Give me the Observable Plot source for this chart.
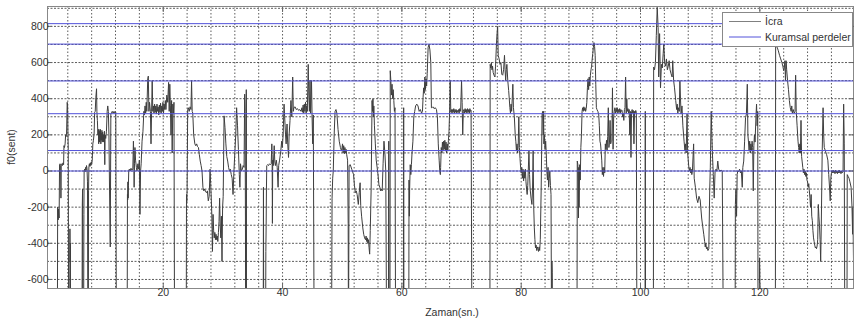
<!DOCTYPE html>
<html><head><meta charset="utf-8">
<script src="https://cdn.jsdelivr.net/npm/d3@7"></script>
<script src="https://cdn.jsdelivr.net/npm/@observablehq/plot@0.6"></script>
<style>
body{margin:0;background:#fff;}
#wrap{position:relative;width:854px;height:320px;font-family:"Liberation Sans",Arial,sans-serif;}
.lbl{position:absolute;font-size:10.5px;color:#333;white-space:nowrap;}
#legend{position:absolute;left:722px;top:12px;width:129px;height:33px;border:1px solid #888;background:#fff;}
</style></head><body><div id="wrap"></div>
<script>
// Theoretical pitches (cents) — "Kuramsal perdeler"
const perdeler = [0, 113.2, 317.0, 498.1, 702.0, 815.1];
const xTicks = [20, 40, 60, 80, 100, 120];
const yTicks = [-600, -400, -200, 0, 200, 400, 600, 800];
const legendLabels = ["İcra", "Kuramsal perdeler"];
const D = -1000; // unvoiced frames (off the bottom of the axes)

// Performance f0 trace "İcra": [time (s), cents]
const icraNoktalari = [
[2.25,D],[2.3,-200],[2.4,-270],[2.45,-210],[2.55,-260],[2.62,35],[2.7,40],[2.8,30],[2.85,-150],[2.9,35],[3.0,40],[3.1,30],[3.2,45],[3.3,35],[3.36,140],[3.45,130],[3.55,150],[3.64,200],[3.72,190],[3.8,210],[3.9,380],[3.97,360],[4.03,200],[4.08,120],[4.15,D],[4.32,D],[4.36,-320],[4.4,-500],[4.44,-400],[4.48,D],
[6.38,D],[6.43,-200],[6.48,-100],[6.52,D],[6.65,D],[6.7,-240],[6.74,0],[6.82,10],[6.9,-5],[6.98,20],[7.06,5],[7.14,30],[7.22,15],[7.3,-60],[7.38,D],[7.44,D],[7.48,-110],[7.54,25],[7.62,40],[7.7,25],[7.78,45],[7.86,30],[7.94,50],[8.02,40],[8.1,60],[8.2,150],[8.3,170],[8.42,210],[8.5,325],[8.6,330],[8.7,405],[8.82,455],[8.88,330],[8.96,280],[9.05,200],[9.12,230],[9.18,150],[9.24,230],[9.3,160],[9.36,220],[9.42,170],[9.48,230],[9.54,150],[9.6,210],[9.66,170],[9.72,225],[9.78,160],[9.84,215],[9.9,170],[9.96,200],[10.02,160],[10.08,190],[10.14,220],[10.2,35],[10.26,200],[10.36,180],[10.48,220],[10.6,330],[10.7,360],[10.8,330],[10.9,200],[11.0,-100],[11.12,-420],[11.22,315],[11.32,320],[11.45,330],[11.6,320],[11.75,330],[11.9,320],[12.05,325],[12.15,D],
[13.95,D],[14.0,-130],[14.04,-160],[14.08,-60],[14.12,-150],[14.16,-80],[14.22,5],[14.32,10],[14.45,0],[14.6,15],[14.75,5],[14.9,10],[15.0,165],[15.06,100],[15.12,-90],[15.18,40],[15.26,130],[15.36,60],[15.5,20],[15.6,0],[15.75,40],[15.85,10],[16.0,60],[16.1,-240],[16.2,0],[16.3,40],[16.45,165],[16.6,220],[16.75,330],[16.85,310],[16.95,360],[17.05,320],[17.15,380],[17.25,330],[17.4,510],[17.5,525],[17.6,330],[17.7,380],[17.85,330],[17.95,150],[18.05,330],[18.15,500],[18.25,330],[18.35,360],[18.45,320],[18.55,370],[18.65,325],[18.75,360],[18.85,315],[18.95,370],[19.05,330],[19.15,355],[19.25,310],[19.35,365],[19.45,325],[19.55,375],[19.65,320],[19.75,360],[19.85,330],[19.95,380],[20.05,320],[20.15,370],[20.25,340],[20.35,390],[20.45,340],[20.6,420],[20.75,380],[20.9,490],[21.0,330],[21.1,480],[21.2,360],[21.3,200],[21.4,390],[21.5,100],[21.6,370],[21.7,320],[21.8,380],[21.9,D],
[23.85,D],[23.9,-130],[23.95,-170],[24.0,-100],[24.1,340],[24.2,350],[24.35,330],[24.5,355],[24.65,340],[24.75,500],[24.85,330],[24.95,320],[25.1,200],[25.3,150],[25.45,140],[25.6,150],[25.75,135],[25.9,130],[26.05,90],[26.2,55],[26.35,30],[26.5,0],[26.65,-90],[26.8,-110],[26.95,-100],[27.1,-115],[27.25,-120],[27.4,-110],[27.55,-165],[27.7,-140],[27.85,10],[27.95,-70],[28.05,-150],[28.15,-250],[28.25,-445],[28.35,-240],[28.45,-330],[28.55,-370],[28.65,-340],[28.75,-380],[28.85,-350],[28.95,-380],[29.05,-360],[29.15,-390],[29.25,-340],[29.35,-280],[29.45,-150],[29.55,-300],[29.65,-370],[29.75,-250],[29.85,-500],[29.95,-200],[30.05,-140],[30.2,305],[30.35,240],[30.5,150],[30.65,80],[30.8,55],[30.95,20],[31.1,0],[31.25,10],[31.4,-20],[31.55,-40],[31.7,-130],[31.85,0],[32.0,100],[32.15,200],[32.3,350],[32.45,250],[32.6,120],[32.75,-20],[32.85,-90],[32.95,40],[33.1,0],[33.25,10],[33.4,30],[33.55,20],[33.65,425],[33.72,330],[33.78,-260],[33.82,D],[33.88,D],[33.92,450],[33.96,D],
[36.75,D],[36.8,-90],[36.85,D],[37.15,D],[37.2,-445],[37.25,-300],[37.3,-100],[37.35,30],[37.5,35],[37.65,30],[37.8,40],[37.95,35],[38.1,40],[38.2,150],[38.25,90],[38.3,-290],[38.35,60],[38.45,30],[38.6,140],[38.7,50],[38.8,30],[38.95,60],[39.1,20],[39.25,-90],[39.35,30],[39.5,60],[39.7,110],[39.85,165],[39.95,130],[40.1,200],[40.25,370],[40.35,300],[40.5,200],[40.6,150],[40.75,260],[40.85,160],[41.0,75],[41.1,200],[41.25,280],[41.4,390],[41.55,300],[41.7,520],[41.8,330],[41.9,350],[42.1,355],[42.3,340],[42.5,345],[42.7,335],[42.9,340],[43.1,330],[43.25,350],[43.35,325],[43.45,365],[43.55,320],[43.65,370],[43.75,330],[43.85,380],[43.95,320],[44.05,360],[44.15,330],[44.3,590],[44.4,420],[44.5,330],[44.6,500],[44.7,320],[44.85,500],[44.95,300],[45.05,150],[45.15,310],[45.3,D],
[48.2,D],[48.3,-150],[48.4,-40],[48.5,0],[48.65,200],[48.8,330],[48.95,340],[49.1,320],[49.3,230],[49.5,165],[49.7,130],[49.9,110],[50.05,150],[50.15,100],[50.25,140],[50.35,95],[50.45,130],[50.55,100],[50.65,120],[50.75,90],[50.9,60],[51.0,-290],[51.05,D],[51.15,30],[51.35,35],[51.6,10],[51.9,-20],[52.05,-80],[52.2,-120],[52.35,-110],[52.5,-130],[52.7,-185],[52.85,-120],[53.0,-65],[53.1,-190],[53.25,-250],[53.45,-315],[53.6,-350],[53.75,-370],[53.9,-380],[54.0,-360],[54.1,-390],[54.2,-370],[54.3,-400],[54.4,-380],[54.5,-425],[54.6,-460],[54.7,-330],[54.85,-100],[55.0,390],[55.08,330],[55.15,400],[55.22,300],[55.3,360],[55.4,250],[55.55,150],[55.7,60],[55.85,20],[56.0,-20],[56.15,-75],[56.3,-90],[56.45,-110],[56.6,-100],[56.7,-110],[56.85,40],[57.0,165],[57.15,100],[57.3,0],[57.45,D],
[57.75,D],[57.8,165],[57.85,D],[58.0,D],[58.05,555],[58.15,500],[58.25,420],[58.35,480],[58.45,400],[58.55,450],[58.65,390],[58.75,330],[58.85,350],[58.95,D],
[60.25,D],[60.3,350],[60.35,D],
[61.15,D],[61.2,-50],[61.25,-250],[61.3,-100],[61.4,35],[61.5,-20],[61.6,35],[61.7,100],[61.85,165],[62.0,300],[62.15,330],[62.3,360],[62.5,370],[62.7,360],[62.9,330],[63.1,340],[63.3,320],[63.45,330],[63.55,405],[63.65,460],[63.75,430],[63.85,520],[63.95,450],[64.05,510],[64.15,470],[64.25,540],[64.4,685],[64.55,700],[64.7,670],[64.85,600],[64.95,350],[65.05,350],[65.2,355],[65.4,345],[65.6,350],[65.8,340],[65.95,300],[66.1,150],[66.25,60],[66.35,0],[66.45,-20],[66.5,20],[66.6,130],[66.7,100],[66.8,160],[66.9,110],[67.0,165],[67.1,120],[67.2,170],[67.3,110],[67.4,160],[67.5,100],[67.6,150],[67.7,110],[67.8,170],[67.9,220],[68.0,330],[68.1,500],[68.2,325],[68.3,340],[68.4,320],[68.5,340],[68.6,325],[68.7,345],[68.8,320],[68.9,340],[69.0,325],[69.1,340],[69.2,320],[69.3,335],[69.4,325],[69.5,340],[69.6,320],[69.7,345],[69.85,330],[70.0,500],[70.1,380],[70.2,200],[70.3,330],[70.4,340],[70.5,320],[70.6,345],[70.7,325],[70.8,340],[70.9,320],[71.0,345],[71.1,325],[71.2,340],[71.3,320],[71.4,345],[71.5,330],[71.6,335],[71.75,D],
[74.75,D],[74.8,590],[74.9,570],[75.0,600],[75.1,560],[75.2,580],[75.3,545],[75.45,530],[75.6,520],[75.7,580],[75.85,700],[75.95,760],[76.05,800],[76.15,640],[76.3,620],[76.45,590],[76.6,600],[76.75,535],[76.9,530],[77.05,560],[77.2,640],[77.3,560],[77.4,500],[77.5,560],[77.6,590],[77.75,500],[77.9,445],[78.0,400],[78.1,350],[78.2,320],[78.3,370],[78.4,330],[78.5,400],[78.6,480],[78.7,350],[78.85,300],[79.0,200],[79.1,165],[79.2,110],[79.3,150],[79.4,100],[79.5,140],[79.6,300],[79.7,130],[79.8,70],[79.9,20],[80.0,-10],[80.1,20],[80.2,-40],[80.3,10],[80.4,-55],[80.5,0],[80.6,-40],[80.7,10],[80.8,-60],[80.9,-100],[81.0,-130],[81.1,-80],[81.3,110],[81.4,-20],[81.5,-100],[81.65,-150],[81.8,-185],[81.9,-100],[82.0,110],[82.1,-200],[82.2,-315],[82.3,-380],[82.4,-425],[82.5,-410],[82.6,-440],[82.7,-420],[82.8,-430],[82.9,-445],[83.0,-420],[83.1,-440],[83.2,-380],[83.35,-100],[83.5,315],[83.6,330],[83.7,200],[83.75,330],[83.8,150],[83.9,200],[84.0,120],[84.1,165],[84.2,100],[84.3,0],[84.4,-50],[84.5,20],[84.6,-90],[84.7,-40],[84.8,0],[84.9,-80],[85.0,-130],[85.1,D],[85.15,-500],[85.2,-560],[85.25,D],
[89.35,D],[89.4,55],[89.5,35],[89.55,-100],[89.6,-260],[89.65,20],[89.7,-200],[89.8,35],[89.9,-50],[90.0,130],[90.1,200],[90.2,330],[90.3,350],[90.4,330],[90.5,355],[90.6,335],[90.7,350],[90.8,330],[90.9,345],[91.0,380],[91.1,460],[91.2,510],[91.3,450],[91.4,520],[91.5,470],[91.6,530],[91.7,560],[91.8,580],[91.9,620],[92.0,650],[92.1,685],[92.2,710],[92.3,690],[92.4,640],[92.5,480],[92.6,350],[92.7,340],[92.85,330],[93.0,310],[93.1,250],[93.2,165],[93.3,150],[93.4,110],[93.5,60],[93.6,-20],[93.7,20],[93.8,-30],[93.9,20],[94.0,-10],[94.1,150],[94.2,120],[94.3,170],[94.4,110],[94.5,190],[94.6,350],[94.7,130],[94.8,160],[94.9,280],[95.0,150],[95.1,165],[95.2,170],[95.3,460],[95.4,120],[95.5,300],[95.6,330],[95.7,350],[95.8,320],[95.9,345],[96.0,330],[96.1,350],[96.2,320],[96.3,340],[96.4,325],[96.5,345],[96.6,320],[96.7,340],[96.8,330],[96.9,335],[97.0,300],[97.1,320],[97.2,280],[97.3,340],[97.4,350],[97.5,520],[97.6,320],[97.7,400],[97.8,330],[97.9,345],[98.0,320],[98.1,340],[98.2,200],[98.3,330],[98.4,75],[98.5,330],[98.6,340],[98.7,320],[98.8,335],[98.9,150],[99.0,330],[99.1,320],[99.2,335],[99.3,325],[99.4,D],
[100.75,D],[100.8,330],[100.85,D],
[102.15,D],[102.2,575],[102.35,560],[102.5,600],[102.65,750],[102.8,905],[102.95,795],[103.05,520],[103.2,760],[103.35,460],[103.5,590],[103.65,570],[103.8,650],[103.9,700],[104.05,600],[104.2,580],[104.35,620],[104.5,560],[104.65,580],[104.8,610],[104.95,560],[105.1,540],[105.3,520],[105.4,610],[105.55,500],[105.7,460],[105.9,390],[106.05,340],[106.15,370],[106.25,320],[106.35,350],[106.5,330],[106.6,500],[106.7,400],[106.8,315],[106.95,360],[107.1,250],[107.3,165],[107.45,110],[107.55,150],[107.65,100],[107.8,315],[107.9,100],[108.0,60],[108.1,20],[108.2,0],[108.3,20],[108.4,-10],[108.5,10],[108.6,-20],[108.7,0],[108.9,150],[109.0,-40],[109.2,-90],[109.4,-150],[109.6,-175],[109.8,-140],[110.0,-160],[110.1,-200],[110.25,-260],[110.4,-300],[110.6,-350],[110.75,-390],[110.85,-420],[110.95,-400],[111.05,-430],[111.15,-420],[111.3,-440],[111.45,-430],[111.6,-100],[111.7,20],[111.85,330],[111.95,200],[112.05,100],[112.2,-20],[112.35,-150],[112.5,0],[112.65,10],[112.8,0],[112.95,55],[113.1,10],[113.3,0],[113.5,5],[113.7,0],[113.9,D],
[115.85,D],[115.9,-185],[116.0,-100],[116.1,-250],[116.2,-20],[116.3,0],[116.45,-5],[116.6,10],[116.75,-10],[116.9,0],[117.05,-90],[117.15,20],[117.3,55],[117.45,165],[117.6,295],[117.75,315],[117.9,480],[118.0,200],[118.1,160],[118.2,110],[118.3,165],[118.4,100],[118.5,150],[118.6,110],[118.7,165],[118.8,130],[118.9,-110],[119.0,140],[119.1,200],[119.2,160],[119.35,300],[119.45,370],[119.55,250],[119.65,330],[119.7,D],[119.9,D],[119.95,-480],[120.0,-560],[120.05,D],
[122.6,D],[122.65,720],[122.8,690],[122.95,680],[123.1,665],[123.3,640],[123.5,620],[123.7,600],[123.85,580],[124.0,555],[124.1,570],[124.2,610],[124.3,500],[124.4,610],[124.5,560],[124.65,500],[124.8,450],[124.95,390],[125.1,350],[125.25,330],[125.35,360],[125.45,320],[125.6,340],[125.75,320],[125.9,330],[126.0,530],[126.1,330],[126.25,250],[126.4,165],[126.5,130],[126.6,100],[126.7,150],[126.8,100],[126.9,280],[127.0,80],[127.1,50],[127.2,20],[127.3,-10],[127.4,10],[127.5,-20],[127.6,0],[127.7,-30],[127.8,-10],[127.9,-50],[128.0,-60],[128.1,-90],[128.2,-70],[128.3,-110],[128.4,-150],[128.5,-200],[128.6,-130],[128.7,-250],[128.8,-275],[128.9,-330],[129.0,-370],[129.1,-390],[129.2,-410],[129.3,-425],[129.4,-420],[129.5,-430],[129.6,-415],[129.7,-380],[129.8,-185],[129.9,-250],[130.0,-300],[130.1,-380],[130.2,-500],[130.3,-300],[130.45,100],[130.6,350],[130.7,200],[130.8,130],[131.0,110],[131.2,90],[131.4,60],[131.55,-20],[131.7,-100],[131.8,-165],[131.9,-40],[132.0,-10],[132.1,0],[132.2,-10],[132.3,5],[132.4,-10],[132.5,0],[132.6,-15],[132.7,5],[132.8,-10],[132.9,0],[133.0,-15],[133.1,0],[133.2,-10],[133.3,5],[133.4,-10],[133.5,0],[133.6,-15],[133.7,0],[133.8,-10],[133.95,-5],[134.05,370],[134.15,150],[134.25,D],[134.6,D],[134.65,-20],[134.8,-30],[134.95,-40],[135.1,-60],[135.3,-90],[135.45,-200],[135.55,-350],[135.6,-200],[135.7,-500]
];

const icra = icraNoktalari.map(([t, v]) => ({t, f0: v}));
const xGrid = d3.range(4, 136, 4);
const yGrid = d3.range(-600, 1000, 100);
const fmt = d => String(d);

const chart = Plot.plot({
  width: 854, height: 320,
  marginLeft: 47, marginRight: 1, marginTop: 6, marginBottom: 32,
  x: {domain: [0.6, 135.7]},
  y: {domain: [-650, 910]},
  style: {fontFamily: "'Liberation Sans', Arial, sans-serif", fontSize: "10.5px", color: "#333", background: "white"},
  marks: [
    Plot.gridX(xGrid, {stroke: "#333", strokeOpacity: 0.8, strokeDasharray: "1.5,2"}),
    Plot.gridY(yGrid, {stroke: "#333", strokeOpacity: 0.8, strokeDasharray: "2,1.5"}),
    Plot.line(icra, {x: "t", y: "f0", stroke: "#3e3e3e", strokeWidth: 1, clip: true}),
    Plot.ruleY(perdeler, {stroke: "#5252da", strokeWidth: 1}),
    Plot.frame({stroke: "#888"}),
    Plot.axisX(xTicks, {anchor: "bottom", tickSize: -5, tickPadding: 5, tickFormat: fmt, label: null, stroke: "#666"}),
    Plot.axisX(xTicks, {anchor: "top", tickSize: -5, text: null, label: null, stroke: "#666"}),
    Plot.axisY(yTicks, {anchor: "left", tickSize: -5, tickPadding: 4, tickFormat: fmt, label: null, stroke: "#666"}),
    Plot.axisY(yTicks, {anchor: "right", tickSize: -5, text: null, label: null, stroke: "#666"})
  ]
});

const wrap = document.getElementById("wrap");
wrap.appendChild(chart);

const yl = document.createElement("div");
yl.className = "lbl";
yl.textContent = "f0(sent)";
yl.style.left = "11px"; yl.style.top = "147px";
yl.style.transform = "translate(-50%,-50%) rotate(-90deg)";
wrap.appendChild(yl);

const xl = document.createElement("div");
xl.className = "lbl";
xl.textContent = "Zaman(sn.)";
xl.style.left = "452px"; xl.style.top = "312px";
xl.style.transform = "translate(-50%,-50%)";
wrap.appendChild(xl);

const lg = document.createElement("div");
lg.id = "legend";
const colors = ["#808080", "#5252da"];
lg.innerHTML = `<svg width="129" height="33" style="position:absolute;left:0;top:0">
  ${legendLabels.map((s, i) => `<line x1="6" x2="38" y1="${8.5 + i * 15.5}" y2="${8.5 + i * 15.5}" stroke="${colors[i]}" stroke-width="1"/>
  <text x="42" y="${8.5 + i * 15.5}" dy="0.36em" font-size="10.5" fill="#333" font-family="'Liberation Sans', Arial, sans-serif">${s}</text>`).join("")}
</svg>`;
wrap.appendChild(lg);
</script></body></html>
